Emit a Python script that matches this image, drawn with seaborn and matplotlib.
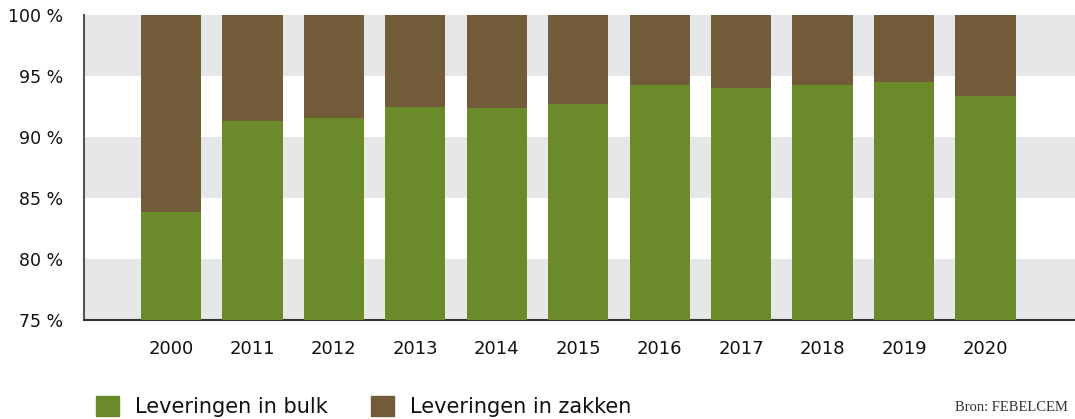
import numpy as np
import pandas as pd
import matplotlib
matplotlib.use("Agg")
import matplotlib.pyplot as plt
from matplotlib.patches import Patch
import seaborn as sns

# Aandeel leveringen cement: bulk vs zakken (%)
years = ["2000", "2011", "2012", "2013", "2014", "2015", "2016", "2017", "2018", "2019", "2020"]
bulk = [83.9, 91.3, 91.6, 92.5, 92.4, 92.7, 94.3, 94.0, 94.3, 94.5, 93.4]
total = [100] * len(years)

green = "#6b8a29"
brown = "#725b39"
band = "#e6e7e9"

df = pd.DataFrame({"jaar": years, "bulk": bulk, "totaal": total})

sns.set_style("white")
plt.rcParams["font.family"] = ["DejaVu Sans"]

fig = plt.figure(figsize=(10.75, 4.19), dpi=100)
ax = fig.add_axes([0.078, 0.236, 0.922, 0.728])

# grijze banden
for lo in (75, 85, 95):
    ax.axhspan(lo, lo + 5, color=band, zorder=0, lw=0)

sns.barplot(data=df, x="jaar", y="totaal", color=brown, width=0.74,
            saturation=1, linewidth=0, ax=ax, zorder=2)
sns.barplot(data=df, x="jaar", y="bulk", color=green, width=0.74,
            saturation=1, linewidth=0, ax=ax, zorder=3)

ax.set_ylim(75, 100)
ax.set_xlim(-1.07, 11.1)
ax.set_yticks([75, 80, 85, 90, 95, 100])
ax.set_yticklabels([f"{v} %" for v in [75, 80, 85, 90, 95, 100]],
                   fontsize=12.5, color="#111111")
ax.tick_params(axis="y", direction="in", length=7, width=1.3, color="#555555", pad=15)
ax.tick_params(axis="x", length=0, labelsize=13, pad=14, labelcolor="#111111")
ax.set_xlabel("")
ax.set_ylabel("")

for s in ("top", "right"):
    ax.spines[s].set_visible(False)
ax.spines["left"].set_color("#555555")
ax.spines["left"].set_linewidth(1.5)
ax.spines["bottom"].set_color("#333333")
ax.spines["bottom"].set_linewidth(1.5)

handles = [Patch(color=green, label="Leveringen in bulk"),
           Patch(color=brown, label="Leveringen in zakken")]
fig.legend(handles=handles, loc="lower left", bbox_to_anchor=(0.076, -0.03),
           ncol=2, frameon=False, fontsize=15, handlelength=1.1, handleheight=1.1,
           columnspacing=2.1, handletextpad=0.75, borderaxespad=0.3,
           labelcolor="#111111")

fig.text(0.993, 0.012, "Bron: FEBELCEM", ha="right", va="bottom",
         fontsize=10.5, family=["Liberation Serif", "DejaVu Serif"], color="#333333")

fig.savefig("out.png", dpi=100)
